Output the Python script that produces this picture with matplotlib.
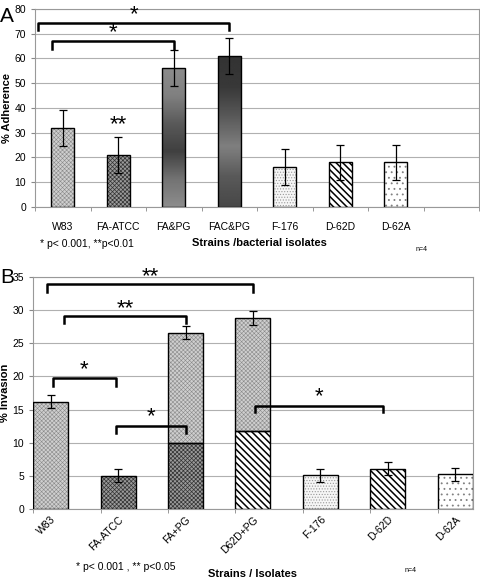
import numpy as np
import matplotlib
matplotlib.use('Agg')
import matplotlib.pyplot as plt
from matplotlib.ticker import MultipleLocator

# panel A data
strains_a = ['W83', 'FA-ATCC', 'FA&PG', 'FAC&PG', 'F-176', 'D-62D', 'D-62A']
adherence = [32, 21, 56, 61, 16, 18, 18]
adherence_err = [7.2, 7.3, 7.3, 7.3, 7.3, 7.2, 7.2]

# panel B data
strains_b = ['W83', 'FA-ATCC', 'FA+PG', 'D62D+PG', 'F-176', 'D-62D', 'D-62A']
invasion = [16.2, 5.0, 26.6, 28.8, 5.1, 6.1, 5.2]
invasion_err = [1.0, 1.0, 1.0, 1.0, 1.0, 1.0, 1.0]
invasion_base = [0, 0, 9.9, 11.8, 0, 0, 0]   # lower stacked part (FA / D62D alone)

# brackets: (x1, x2, bar height, leg bottom, label, label y)
brackets_a = [(-0.45, 3.0, 74.4, 71.6, '*', 73.6),
              (-0.2, 2.0, 67.2, 64.0, '*', 66.2)]
brackets_b = [(-0.05, 3.0, 33.9, 32.7, '**', 33.4),
              (0.2, 2.0, 29.1, 28.0, '**', 28.7),
              (0.03, 0.97, 19.7, 18.6, '*', 19.4),
              (0.97, 2.0, 12.5, 11.5, '*', 12.3),
              (3.03, 4.93, 15.5, 14.6, '*', 15.4)]

plt.rcParams['font.family'] = ['Liberation Sans', 'DejaVu Sans']

fig = plt.figure(figsize=(4.8, 5.79), dpi=100)
axA = fig.add_axes([0.073, 0.6425, 0.925, 0.342])
axB = fig.add_axes([0.069, 0.121, 0.916, 0.4006])

# (face, hatch colour, hatch, hatch linewidth)
light = ('#cfcfcf', '#8a8a8a', 'xxxxxxxx', 0.4)
checker = ('#9a9a9a', '#333333', 'xxxxxxxx', 0.5)
dots = ('#f6f6f6', '#9a9a9a', '......', 0.5)
stripes = ('white', 'black', '\\\\\\\\\\', 1.1)
sparse = ('white', '#808080', '...', 0.6)

styles_a = [light, checker, None, None, dots, stripes, sparse]
styles_b = [light, checker, light, light, dots, stripes, sparse]
base_styles = {2: checker, 3: stripes}

def hatched_bar(ax, x, h, w, style, bottom=0):
	face, hc, hatch, hlw = style
	with plt.rc_context({'hatch.linewidth': hlw}):
		ax.bar(x, h, w, bottom=bottom, color=face, edgecolor=hc, hatch=hatch, linewidth=0, zorder=2)
	ax.bar(x, h, w, bottom=bottom, fill=False, edgecolor='black', linewidth=1.0, zorder=3)

def gradient_bar(ax, x, h, w, profile):
	b = ax.bar(x, h, w, color='none', edgecolor='black', linewidth=1.0, zorder=3)[0]
	grad = np.interp(np.linspace(0, 1, 100), np.linspace(0, 1, len(profile)), profile)
	img = ax.imshow(grad[::-1].reshape(-1, 1), cmap='gray', vmin=0, vmax=1, aspect='auto',
			extent=(x - w / 2, x + w / 2, 0, h), zorder=2, interpolation='bilinear')
	img.set_clip_path(b)

# ---- panel A ----
xa = np.arange(len(strains_a))
wa = 0.41
for i in xa:
	if styles_a[i] is not None:
		hatched_bar(axA, i, adherence[i], wa, styles_a[i])
gradient_bar(axA, 2, adherence[2], wa, [0.55, 0.45, 0.25, 0.35, 0.5, 0.55])
gradient_bar(axA, 3, adherence[3], wa, [0.28, 0.35, 0.5, 0.35, 0.22, 0.2])
axA.errorbar(xa, adherence, yerr=adherence_err, fmt='none', ecolor='black', elinewidth=0.9,
	capsize=3, capthick=0.9, zorder=4)
axA.set_xlim(-0.5, 7.5)
axA.set_ylim(0, 80)
axA.yaxis.set_major_locator(MultipleLocator(10))
axA.set_xticks(xa)
axA.set_xticklabels(strains_a, fontsize=7.5)
axA.set_xticks(np.arange(-0.5, 8, 1), minor=True)
axA.tick_params(axis='x', which='major', length=0, pad=11)
axA.tick_params(axis='x', which='minor', length=3, color='#888888')
axA.tick_params(axis='y', labelsize=7.5, length=3, color='#888888')
axA.set_ylabel('% Adherence', fontsize=8, fontweight='bold', labelpad=2)
axA.grid(axis='y', color='#b0b0b0', linewidth=0.8, zorder=0)
axA.set_axisbelow(True)
for s in axA.spines.values():
	s.set_color('#999999')
for x1, x2, y, yl, lab, ty in brackets_a:
	axA.plot([x1, x1, x2, x2], [yl, y, y, yl], color='black', lw=1.8, clip_on=False, zorder=5)
	axA.text((x1 + x2) / 2, ty, lab, ha='center', va='bottom', fontsize=16, clip_on=False)
axA.text(1, 29.0, '**', ha='center', va='bottom', fontsize=16)
fig.text(0.0, 0.962, 'A', fontsize=15)
fig.text(0.083, 0.573, '* p< 0.001, **p<0.01', fontsize=7.5)
fig.text(0.54, 0.575, 'Strains /bacterial isolates', fontsize=8, fontweight='bold', ha='center')
fig.text(0.865, 0.566, 'n=4', fontsize=5)

# ---- panel B ----
xb = np.arange(len(strains_b))
wb = 0.52
for i in xb:
	if invasion_base[i] > 0:
		hatched_bar(axB, i, invasion_base[i], wb, base_styles[i])
		hatched_bar(axB, i, invasion[i] - invasion_base[i], wb, styles_b[i], bottom=invasion_base[i])
	else:
		hatched_bar(axB, i, invasion[i], wb, styles_b[i])
axB.errorbar(xb, invasion, yerr=invasion_err, fmt='none', ecolor='black', elinewidth=0.9,
	capsize=3, capthick=0.9, zorder=4)
axB.set_xlim(-wb / 2, 6 + wb / 2)
axB.set_ylim(0, 35)
axB.yaxis.set_major_locator(MultipleLocator(5))
axB.set_xticks(xb)
axB.set_xticklabels(strains_b, fontsize=7.5, rotation=45, ha='right', rotation_mode='anchor')
axB.set_xticks(np.arange(-0.26, 6.5, 1), minor=True)
axB.tick_params(axis='x', which='major', length=0, pad=4)
axB.tick_params(axis='x', which='minor', length=3, color='#888888')
axB.tick_params(axis='y', labelsize=7.5, length=3, color='#888888')
axB.set_ylabel('% Invasion', fontsize=8, fontweight='bold', labelpad=2)
axB.grid(axis='y', color='#b0b0b0', linewidth=0.8, zorder=0)
axB.set_axisbelow(True)
for s in axB.spines.values():
	s.set_color('#999999')
for x1, x2, y, yl, lab, ty in brackets_b:
	axB.plot([x1, x1, x2, x2], [yl, y, y, yl], color='black', lw=1.8, clip_on=False, zorder=5)
	axB.text((x1 + x2) / 2, ty, lab, ha='center', va='bottom', fontsize=16, clip_on=False)
fig.text(0.0, 0.512, 'B', fontsize=15)
fig.text(0.158, 0.016, '* p< 0.001 , ** p<0.05', fontsize=7.5)
fig.text(0.527, 0.003, 'Strains / Isolates', fontsize=8, fontweight='bold', ha='center')
fig.text(0.843, 0.012, 'n=4', fontsize=5)

fig.savefig('out.png', dpi=100)
